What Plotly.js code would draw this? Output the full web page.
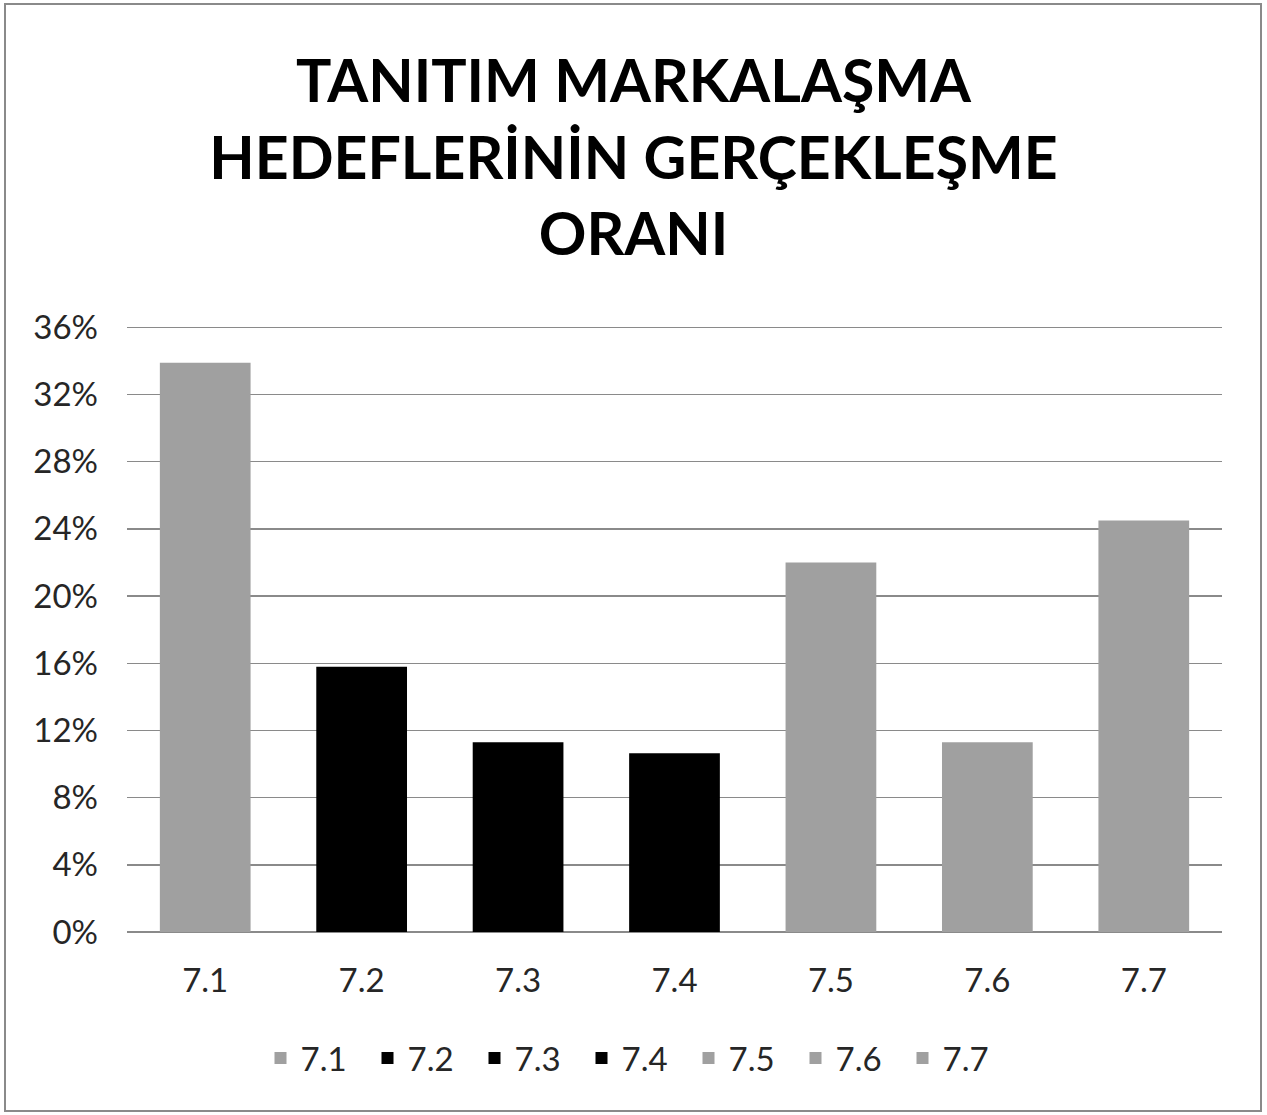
<!DOCTYPE html>
<html>
<head>
<meta charset="utf-8">
<script src="https://cdn.plot.ly/plotly-3.0.1.min.js"></script>
<style>
  html, body { margin: 0; padding: 0; background: #ffffff; }
  #chart { width: 1267px; height: 1115px; }
</style>
</head>
<body>
<div id="chart"></div>
<script>
const categories = ["7.1", "7.2", "7.3", "7.4", "7.5", "7.6", "7.7"];
const values = [0.339, 0.158, 0.113, 0.1065, 0.22, 0.113, 0.245];
const barColors = ["#a0a0a0", "#000000", "#000000", "#000000", "#a0a0a0", "#a0a0a0", "#a0a0a0"];
const yTickVals = [0, 0.04, 0.08, 0.12, 0.16, 0.20, 0.24, 0.28, 0.32, 0.36];
const yTickText = ["0%", "4%", "8%", "12%", "16%", "20%", "24%", "28%", "32%", "36%"];
const titleText = "TANITIM MARKALAŞMA<br>HEDEFLERİNİN GERÇEKLEŞME<br>ORANI";

const W = 1267, H = 1115;
const margin = { l: 127, r: 45, t: 324, b: 183 };
const pw = W - margin.l - margin.r, ph = H - margin.t - margin.b;
const FONT = "Lato, 'Open Sans', sans-serif";

const traces = categories.map((c, i) => ({
  type: "bar",
  name: c,
  x: [c],
  y: [values[i]],
  marker: { color: barColors[i], line: { width: 0 } },
  hoverinfo: "skip"
}));

// border around whole chart area (paper coordinates extended to the page edges)
const bx0 = (5 - margin.l) / pw, bx1 = (1261 - margin.l) / pw;
const by0 = (H - 1111 - margin.b) / ph, by1 = (H - 4 - margin.b) / ph;

const layout = {
  width: W,
  height: H,
  margin: margin,
  paper_bgcolor: "#ffffff",
  plot_bgcolor: "#ffffff",
  font: { family: FONT, color: "#262626", size: 33 },
  title: {
    text: titleText,
    font: { family: FONT, size: 59, color: "#000000", weight: "bold" },
    x: 0.5,
    xanchor: "center",
    xref: "container",
    y: 1 - 102 / H,
    yanchor: "top",
    yref: "container"
  },
  barmode: "group",
  bargap: 0.42,
  showlegend: true,
  legend: {
    orientation: "h",
    x: (635 - margin.l) / pw,
    xanchor: "center",
    y: -(1058 - 932) / ph,
    yanchor: "middle",
    font: { family: FONT, size: 33, color: "#262626" },
    entrywidth: 62,
    entrywidthmode: "pixels",
    traceorder: "normal"
  },
  xaxis: {
    type: "category",
    categoryorder: "array",
    categoryarray: categories,
    showgrid: false,
    zeroline: false,
    showline: false,
    ticks: "",
    ticklabelstandoff: 26,
    tickfont: { family: FONT, size: 33, color: "#262626" }
  },
  yaxis: {
    range: [0, 0.362],
    tickvals: yTickVals,
    ticktext: yTickText,
    showgrid: true,
    gridcolor: "#8a8a8a",
    gridwidth: 1.5,
    zeroline: true,
    zerolinecolor: "#8a8a8a",
    zerolinewidth: 1.5,
    showline: false,
    ticks: "",
    ticklabelstandoff: 28,
    tickfont: { family: FONT, size: 33, color: "#262626" }
  },
  shapes: [{
    type: "rect",
    xref: "paper", yref: "paper",
    x0: bx0, x1: bx1, y0: by0, y1: by1,
    line: { color: "#8a8a8a", width: 2 },
    fillcolor: "rgba(0,0,0,0)",
    layer: "below"
  }]
};

Plotly.newPlot("chart", traces, layout, { displayModeBar: false, staticPlot: true });
</script>
</body>
</html>
